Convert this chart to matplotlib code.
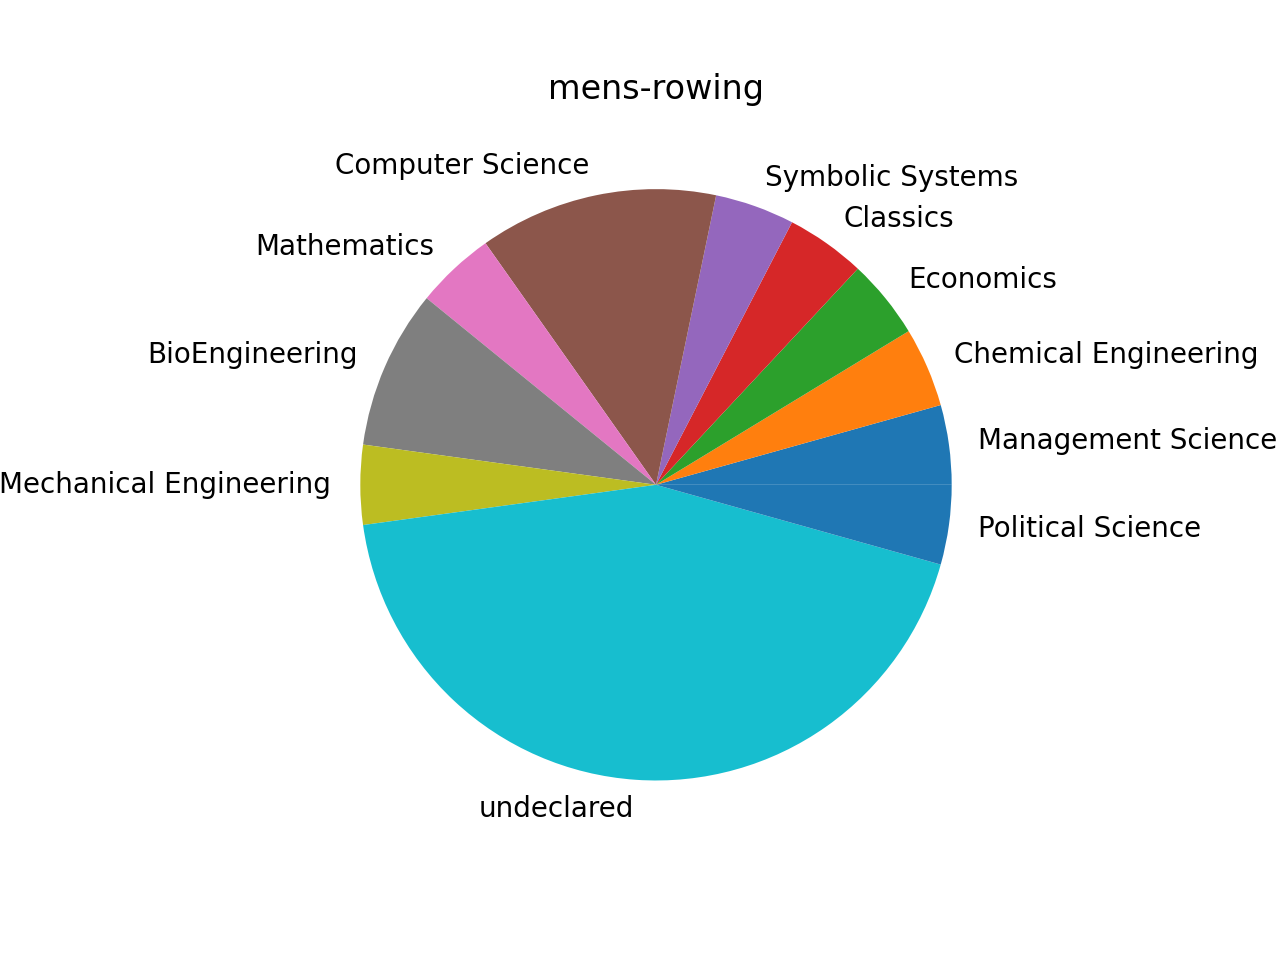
import matplotlib
matplotlib.use("Agg")
import matplotlib.pyplot as plt

majors = ['Management Science', 'Chemical Engineering', 'Economics', 'Classics',
          'Symbolic Systems', 'Computer Science', 'Mathematics', 'BioEngineering',
          'Mechanical Engineering', 'undeclared', 'Political Science']
counts = [1, 1, 1, 1, 1, 3, 1, 2, 1, 10, 1]

fig, ax = plt.subplots(figsize=(6.4, 4.8), dpi=200)
ax.pie(counts, labels=majors)
ax.set_title('mens-rowing')
fig.savefig('out.png')
